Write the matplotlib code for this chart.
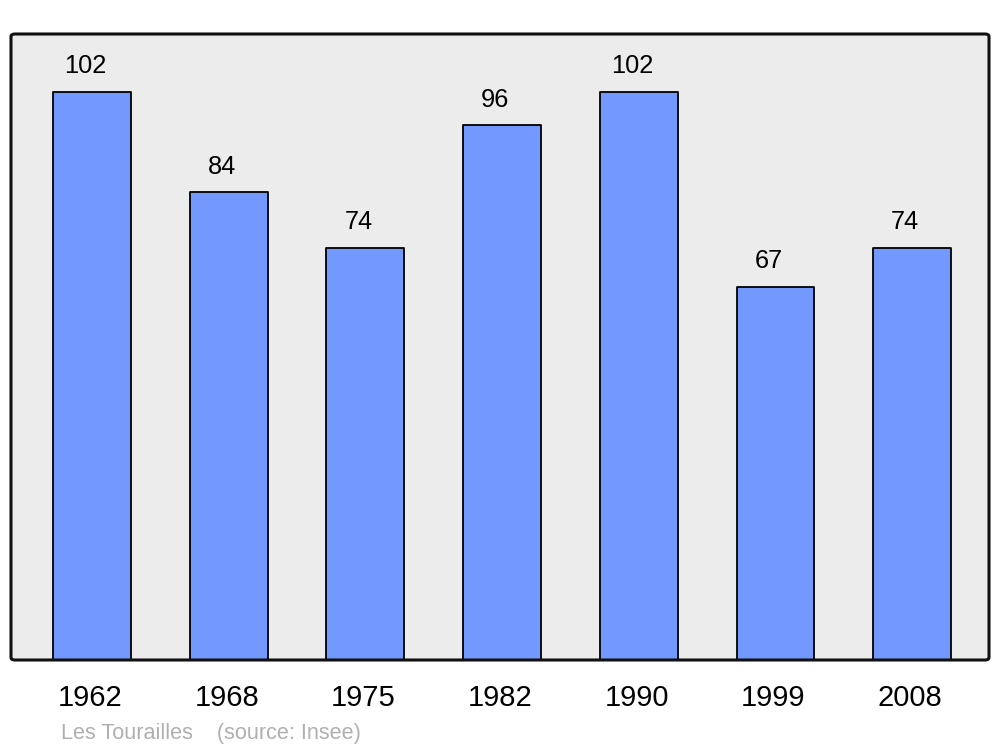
import matplotlib
matplotlib.use("Agg")
import matplotlib.pyplot as plt
import matplotlib.transforms as mtransforms
from matplotlib.patches import FancyBboxPatch

years = ["1962", "1968", "1975", "1982", "1990", "1999", "2008"]
population = [102, 84, 74, 96, 102, 67, 74]

plt.rcParams['font.family'] = ['Liberation Sans', 'DejaVu Sans']

fig = plt.figure(figsize=(10, 7.47), dpi=100)
ax = fig.add_axes([0.011, 1 - 660 / 747, 0.978, (660 - 34) / 747])
ax.set_facecolor("#ececec")

x = list(range(len(years)))
bars = ax.bar(x, population, width=0.57, color="#7399ff", edgecolor="black",
              linewidth=1.3, zorder=2)
for b in bars:
    b.set_joinstyle("round")

# value labels sit a little left of the bar centre, as in the original
for xi, v in zip(x, population):
    ax.annotate(str(v), (xi, v), xytext=(-5, 9.7), textcoords="offset points",
                ha="center", va="bottom", fontsize=18.3)

ax.set_xlim(-0.592, 6.562)
ax.set_ylim(0, 112.4)
ax.set_xticks(x)
ax.set_xticklabels(years, fontsize=21)
ax.tick_params(axis="x", length=0, pad=17.5)
shift = mtransforms.ScaledTranslation(-2 / 100, 0, fig.dpi_scale_trans)
for lab in ax.get_xticklabels():
    lab.set_transform(lab.get_transform() + shift)
ax.set_yticks([])
for s in ax.spines.values():
    s.set_visible(False)

frame = FancyBboxPatch((0, 0), 1, 1, boxstyle="round,pad=0,rounding_size=0.004",
                       transform=ax.transAxes, facecolor="none", edgecolor="#111111",
                       linewidth=2.2, zorder=5, clip_on=False)
ax.add_patch(frame)

fig.text(0.061, 1 - 733 / 747, "Les Tourailles    (source: Insee)", fontsize=15.6,
         color="#b0b0b0", ha="left", va="center")

fig.savefig("out.png", dpi=100)
